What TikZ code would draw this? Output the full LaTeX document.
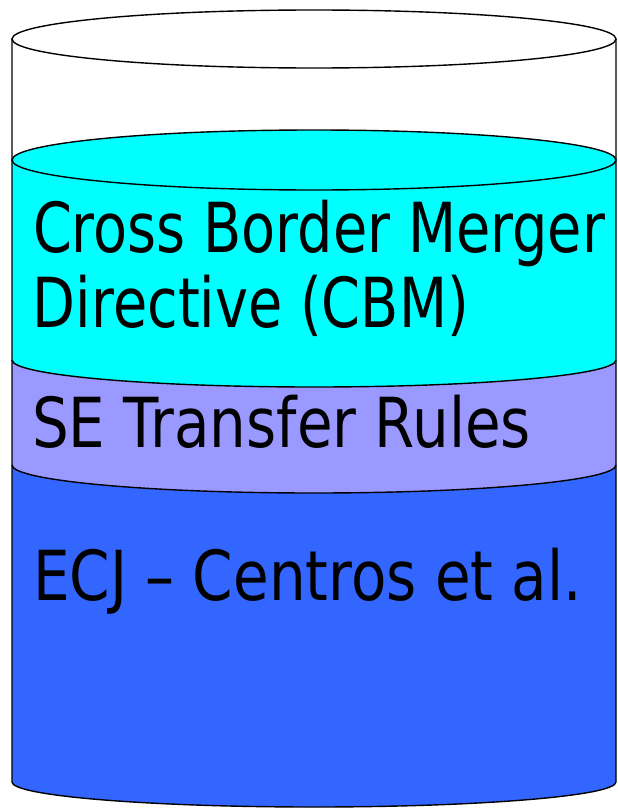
\documentclass[tikz,border=0pt]{standalone}
\usepackage{fontspec}
\setmainfont{DejaVu Sans}
\usepackage{graphicx}
\definecolor{layerA}{HTML}{00FFFF}
\definecolor{layerB}{HTML}{9999FF}
\definecolor{layerC}{HTML}{3366FF}
\begin{document}
\begin{tikzpicture}[x=1pt,y=1pt,
  edge/.style={draw=black,line width=1.4pt},
  lbl/.style={anchor=base west,inner sep=0pt,outer sep=0pt,font=\fontsize{69}{72}\selectfont}]
\useasboundingbox (0,0) rectangle (618,-808);
% white body between top rim and cyan surface
\fill[white] (12,-39) rectangle (616,-160);
% blue layer
\fill[layerC] (12,-465) -- (12,-782) arc[start angle=180,end angle=360,x radius=302pt,y radius=25pt] -- (616,-465) -- cycle;
% lavender layer
\fill[layerB] (12,-360) -- (12,-465) arc[start angle=180,end angle=360,x radius=302pt,y radius=28pt] -- (616,-360) -- cycle;
% cyan layer
\fill[layerA] (12,-160) -- (12,-360) arc[start angle=180,end angle=360,x radius=302pt,y radius=27pt] -- (616,-160) arc[start angle=0,end angle=180,x radius=302pt,y radius=30pt] -- cycle;
% outlines
\draw[edge] (12,-39) -- (12,-782) arc[start angle=180,end angle=360,x radius=302pt,y radius=25pt] -- (616,-39);
\draw[edge,fill=white] (314,-39) ellipse[x radius=302pt,y radius=29pt];
\draw[edge] (314,-160) ellipse[x radius=302pt,y radius=30pt];
\draw[edge] (12,-360) arc[start angle=180,end angle=360,x radius=302pt,y radius=27pt];
\draw[edge] (12,-465) arc[start angle=180,end angle=360,x radius=302pt,y radius=28pt];
% labels
\node[lbl] (cbm1) at (33,-252) {\resizebox{572pt}{\height}{Cross Border Merger}};
\node[lbl] (cbm2) at (33,-327) {\resizebox{436pt}{\height}{Directive (CBM)}};
\node[lbl] (se) at (32,-447) {\resizebox{499pt}{\height}{SE Transfer Rules}};
\node[lbl] (ecj) at (33,-600) {\resizebox{549pt}{\height}{ECJ – Centros et al.}};
\end{tikzpicture}
\end{document}
